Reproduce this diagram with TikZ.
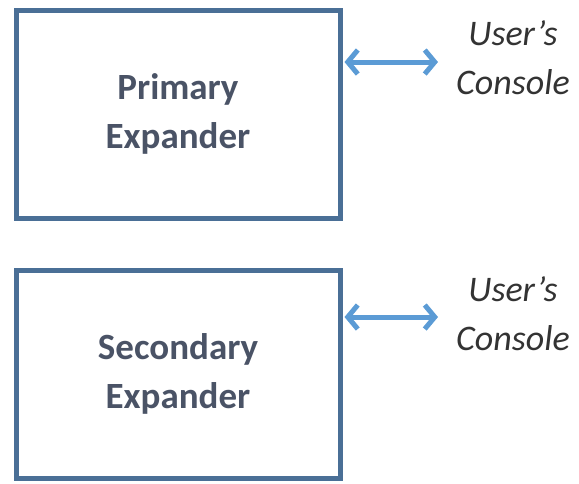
\documentclass[tikz,border=0pt]{standalone}
\usepackage{fontspec}
\setmainfont{Carlito}
\usetikzlibrary{arrows.meta}
\definecolor{boxblue}{HTML}{4A6F96}
\definecolor{arrowblue}{HTML}{5B9BD5}
\definecolor{txt}{HTML}{4A5366}
\definecolor{itxt}{HTML}{333333}
\tikzset{
  expbox/.style={draw=boxblue, line width=5pt, fill=white, minimum width=324pt, minimum height=208pt, inner sep=0pt, text=txt, font=\fontsize{37}{49}\selectfont\bfseries, align=center},
  link/.style={draw=arrowblue, line width=5pt, {Straight Barb[length=10pt,width=24pt]}-{Straight Barb[length=10pt,width=24pt]}},
  console/.style={text=itxt, font=\fontsize{36}{49}\selectfont\itshape, align=center, inner sep=0pt}
}
\begin{document}
\begin{tikzpicture}[x=1pt,y=-1pt]
\useasboundingbox (0,0) rectangle (579,483);
\node[expbox] (p) at (178,114) {\raisebox{-4pt}{Primary}\\\raisebox{-4pt}{Expander}};
\node[expbox] (s) at (178,374) {\raisebox{-4pt}{Secondary}\\\raisebox{-4pt}{Expander}};
\node[console] (c1) at (513,58) {User's\\Console};
\node[console] (c2) at (513,314) {User's\\Console};
\coordinate (a1) at (438,62);
\coordinate (a2) at (438,317);
\draw[link] ([xshift=2pt]p.east |- a1) -- (a1);
\draw[link] ([xshift=2pt]s.east |- a2) -- (a2);
\end{tikzpicture}
\end{document}
